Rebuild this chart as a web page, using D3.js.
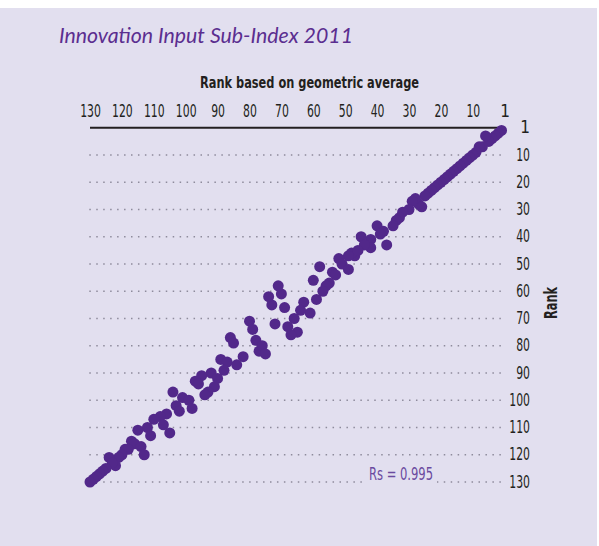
<!DOCTYPE html>
<html>
<head>
<meta charset="utf-8">
<script src="https://cdn.jsdelivr.net/npm/d3@7"></script>
<style>
  html, body { margin: 0; padding: 0; background: #ffffff; }
  svg { display: block; }
</style>
</head>
<body>
<svg id="chart" width="599" height="546"></svg>
<script>
// ---- Data ----
const chartTitle = "Innovation Input Sub-Index 2011";
const xAxisTitle = "Rank based on geometric average";
const yAxisTitle = "Rank";
const corrLabel = "Rs = 0.995";

// tick values (0 position is labelled "1")
const tickValues = [0, 10, 20, 30, 40, 50, 60, 70, 80, 90, 100, 110, 120, 130];
const tickLabels = ["1", "10", "20", "30", "40", "50", "60", "70", "80", "90", "100", "110", "120", "130"];

// rank based on geometric average (x) and actual rank (y)
const geoRank = [
  1, 2, 3, 4, 5, 6, 7, 8, 9, 10, 11, 12, 13, 14, 15, 16, 17, 18, 19, 20, 21, 22, 23, 24, 25,
  26, 27, 28, 29, 30, 32, 33, 34, 35, 37, 40, 38, 39, 42, 42, 45, 44, 47, 48, 46, 49, 52, 51, 49,
  54, 53, 58, 60, 55, 56, 57, 59, 63, 64, 61, 66, 65, 67, 68, 69, 70, 71, 73, 74, 72,
  80, 79, 78, 77, 76, 75, 82, 89, 87, 84, 88, 86, 85, 92, 95, 90, 97, 96, 91, 93, 94,
  104, 101, 99, 103, 98, 102, 106, 108, 110, 105, 112, 115, 111, 107, 117, 116, 114, 113,
  119, 118, 120, 121, 124, 122, 123, 125, 126, 127, 128, 129, 130
];
const actualRank = [
  1, 2, 3, 4, 5, 3, 7, 7, 9, 10, 11, 12, 13, 14, 15, 16, 17, 18, 19, 20, 21, 22, 23, 24, 25,
  29, 28, 26, 27, 30, 31, 33, 34, 36, 43, 36, 38, 39, 41, 44, 40, 43, 47, 46, 45, 47, 48, 50, 52,
  53, 54, 51, 56, 57, 58, 60, 63, 64, 67, 68, 70, 75, 76, 73, 66, 61, 58, 65, 62, 72,
  71, 74, 78, 82, 80, 83, 84, 85, 86, 87, 89, 77, 79, 90, 91, 92, 93, 94, 95, 97, 98,
  97, 99, 100, 102, 103, 104, 105, 106, 107, 112, 110, 111, 113, 109, 115, 116, 117, 120,
  118, 118, 120, 121, 121, 124, 123, 125, 126, 127, 128, 129, 130
];
const points = geoRank.map((g, i) => ({ g: g, r: actualRank[i] }));

// ---- Drawing ----
const svg = d3.select("#chart");
const purple = "#52288a";

svg.append("rect").attr("x", 0).attr("y", 8).attr("width", 597).attr("height", 538)
  .attr("fill", "#e2dfef");

const x = d3.scaleLinear().domain([130, 0]).range([90, 504.7]);
const y = d3.scaleLinear().domain([0, 130]).range([127.75, 482]);

const narrow = "'Liberation Sans Narrow', 'DejaVu Sans Condensed', 'Roboto Condensed', 'Liberation Sans', sans-serif";
const labelLen = s => s.length > 1 ? s.length * 6.9 : null;

// title
svg.append("text")
  .attr("x", 59).attr("y", 43)
  .attr("font-family", "Lato, 'Open Sans', sans-serif")
  .attr("font-style", "italic")
  .attr("font-size", 21)
  .attr("fill", "#5b2e90")
  .attr("textLength", 294).attr("lengthAdjust", "spacingAndGlyphs")
  .text(chartTitle);

// x axis title
svg.append("text")
  .attr("x", 309.5).attr("y", 88)
  .attr("text-anchor", "middle")
  .attr("font-family", narrow)
  .attr("font-weight", "bold")
  .attr("font-size", 16)
  .attr("fill", "#231f20")
  .attr("textLength", 219).attr("lengthAdjust", "spacingAndGlyphs")
  .text(xAxisTitle);

// gridlines (dotted), baseline (solid)
const grid = svg.append("g");
grid.selectAll("line.dot")
  .data(tickValues.filter(v => v > 0))
  .enter().append("line")
  .attr("x1", 89.3).attr("x2", 501)
  .attr("y1", d => y(d)).attr("y2", d => y(d))
  .attr("stroke", "#8e8b9c")
  .attr("stroke-width", 1.5)
  .attr("stroke-dasharray", "1.5 5.45");

svg.append("line")
  .attr("x1", x(130)).attr("x2", 500.5)
  .attr("y1", y(0)).attr("y2", y(0))
  .attr("stroke", "#231f20").attr("stroke-width", 2);

// top axis labels
const topAxis = d3.axisTop(x).tickValues(tickValues)
  .tickFormat(d => tickLabels[tickValues.indexOf(d)]).tickSize(0).tickPadding(0);
const gTop = svg.append("g").attr("transform", "translate(0,117)").call(topAxis);
gTop.select(".domain").remove();
gTop.selectAll("text")
  .attr("font-family", narrow).attr("font-size", 17).attr("fill", "#231f20")
  .attr("dy", 0)
  .attr("textLength", d => labelLen(tickLabels[tickValues.indexOf(d)]))
  .attr("lengthAdjust", "spacingAndGlyphs");

// right axis labels
const rightAxis = d3.axisRight(y).tickValues(tickValues)
  .tickFormat(d => tickLabels[tickValues.indexOf(d)]).tickSize(0).tickPadding(0);
const gRight = svg.append("g").attr("transform", "translate(530,0)").call(rightAxis);
gRight.select(".domain").remove();
gRight.selectAll("text")
  .attr("font-family", narrow).attr("font-size", 17).attr("fill", "#231f20")
  .attr("text-anchor", "end").attr("x", 0).attr("dy", 0)
  .attr("transform", "translate(0,5)")
  .attr("textLength", d => labelLen(tickLabels[tickValues.indexOf(d)]))
  .attr("lengthAdjust", "spacingAndGlyphs");

// y axis title
svg.append("text")
  .attr("transform", "translate(557,303) rotate(-90)")
  .attr("text-anchor", "middle")
  .attr("font-family", narrow)
  .attr("font-weight", "bold")
  .attr("font-size", 17)
  .attr("fill", "#231f20")
  .attr("textLength", 32).attr("lengthAdjust", "spacingAndGlyphs")
  .text(yAxisTitle);

// points
svg.append("g").selectAll("circle")
  .data(points).enter().append("circle")
  .attr("cx", d => x(d.g)).attr("cy", d => y(d.r))
  .attr("r", 5.5)
  .attr("fill", purple);

// correlation label with background
svg.append("rect").attr("x", 367).attr("y", 465).attr("width", 70).attr("height", 19)
  .attr("fill", "#e2dfef");
svg.append("text")
  .attr("x", 369).attr("y", 480)
  .attr("font-family", narrow)
  .attr("font-size", 17)
  .attr("fill", "#6a4a9f")
  .attr("textLength", 64).attr("lengthAdjust", "spacingAndGlyphs")
  .text(corrLabel);
</script>
</body>
</html>
